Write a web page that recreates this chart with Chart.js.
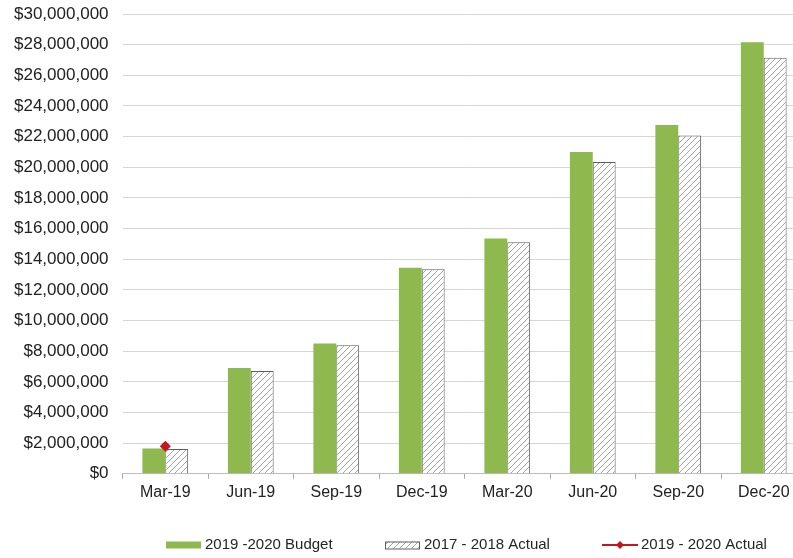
<!DOCTYPE html>
<html>
<head>
<meta charset="utf-8">
<script src="https://cdn.jsdelivr.net/npm/chart.js@4/dist/chart.umd.min.js"></script>
<style>
  html, body { margin: 0; padding: 0; background: #fff; overflow: hidden; }
  .clip { width: 793px; height: 558px; overflow: hidden; }
  .frame { width: 812px; height: 558px; position: relative; }
</style>
</head>
<body>
<div class="clip"><div class="frame"><canvas id="budget-chart" aria-label="Budget vs actual by quarter"></canvas></div></div>
<script>
const quarters = ['Mar-19', 'Jun-19', 'Sep-19', 'Dec-19', 'Mar-20', 'Jun-20', 'Sep-20', 'Dec-20'];
const budget2019 = [1650000, 6900000, 8500000, 13450000, 15350000, 21000000, 22750000, 28150000];
const actual2017 = [1620000, 6700000, 8380000, 13350000, 15100000, 20350000, 22080000, 27150000];
const actual2019 = [1800000, null, null, null, null, null, null, null];
const yMax = 30000000;
const yStep = 2000000;

const font = "'Liberation Sans', Arial, sans-serif";
const green = '#8db94e';
const red = '#c5161d';

// diagonal hatch used for the 2017-2018 bars
function hatch() {
  const c = document.createElement('canvas');
  c.width = 6; c.height = 6;
  const g = c.getContext('2d');
  g.fillStyle = '#fff';
  g.fillRect(0, 0, 6, 6);
  g.strokeStyle = '#a4a4a4';
  g.lineWidth = 1;
  g.beginPath();
  g.moveTo(0, 6); g.lineTo(6, 0);
  g.moveTo(-1, 1); g.lineTo(1, -1);
  g.moveTo(5, 7); g.lineTo(7, 5);
  g.stroke();
  return g.createPattern(c, 'repeat');
}
const hatchFill = hatch();

const legendPlugin = {
  id: 'bottomLegend',
  afterDraw(chart) {
    const ctx = chart.ctx;
    const ds = chart.data.datasets;
    const y = 545;
    ctx.save();
    ctx.font = '15px ' + font;
    ctx.textBaseline = 'middle';
    ctx.textAlign = 'left';

    ctx.fillStyle = ds[0].backgroundColor;
    ctx.fillRect(166, y - 3.5, 35, 7);
    ctx.fillStyle = '#262626';
    ctx.fillText(ds[0].label, 205, y);

    ctx.fillStyle = ds[1].backgroundColor;
    ctx.fillRect(385, y - 3.5, 35, 7);
    ctx.strokeStyle = ds[1].borderColor;
    ctx.lineWidth = 1;
    ctx.strokeRect(385.5, y - 3, 34, 7);
    ctx.fillStyle = '#262626';
    ctx.fillText(ds[1].label, 424, y);

    ctx.strokeStyle = ds[2].borderColor;
    ctx.lineWidth = 2;
    ctx.beginPath();
    ctx.moveTo(602, y); ctx.lineTo(638, y);
    ctx.stroke();
    ctx.fillStyle = ds[2].backgroundColor;
    ctx.beginPath();
    ctx.moveTo(620, y - 4); ctx.lineTo(624, y); ctx.lineTo(620, y + 4); ctx.lineTo(616, y);
    ctx.closePath();
    ctx.fill();
    ctx.fillStyle = '#262626';
    ctx.fillText(ds[2].label, 641, y);
    ctx.restore();
  }
};

new Chart(document.getElementById('budget-chart'), {
  type: 'bar',
  data: {
    labels: quarters,
    datasets: [
      { label: '2019 -2020 Budget', data: budget2019, backgroundColor: green, borderWidth: 0, order: 1 },
      { label: '2017 - 2018 Actual', data: actual2017, backgroundColor: hatchFill, borderColor: '#5e5e5e', borderWidth: 1, order: 1 },
      { type: 'line', label: '2019 - 2020 Actual', data: actual2019, borderColor: red, backgroundColor: red, borderWidth: 2,
        pointStyle: 'rectRot', pointRadius: 5.5, pointBorderWidth: 0, order: 0 }
    ]
  },
  options: {
    responsive: true,
    maintainAspectRatio: false,
    animation: false,
    layout: { padding: { left: 0, top: 14, right: 0, bottom: 52 } },
    datasets: { bar: { barPercentage: 1, categoryPercentage: 0.535 } },
    plugins: { legend: { display: false }, tooltip: { enabled: false } },
    scales: {
      x: {
        grid: { drawOnChartArea: false, drawTicks: true, tickLength: 5, color: '#a8a8a8' },
        border: { color: '#bdbdbd' },
        ticks: { color: '#222', font: { family: font, size: 16 }, padding: 4, maxRotation: 0 }
      },
      y: {
        min: 0,
        max: yMax,
        grid: { color: '#d6d6d6', drawTicks: false },
        border: { display: false },
        afterFit: (scale) => { scale.paddingTop = 0; scale.paddingBottom = 0; },
        ticks: {
          stepSize: yStep,
          color: '#222',
          padding: 14,
          font: { family: font, size: 17 },
          callback: (v) => '$' + Number(v).toLocaleString('en-US')
        }
      }
    }
  },
  plugins: [legendPlugin]
});
</script>
</body>
</html>
